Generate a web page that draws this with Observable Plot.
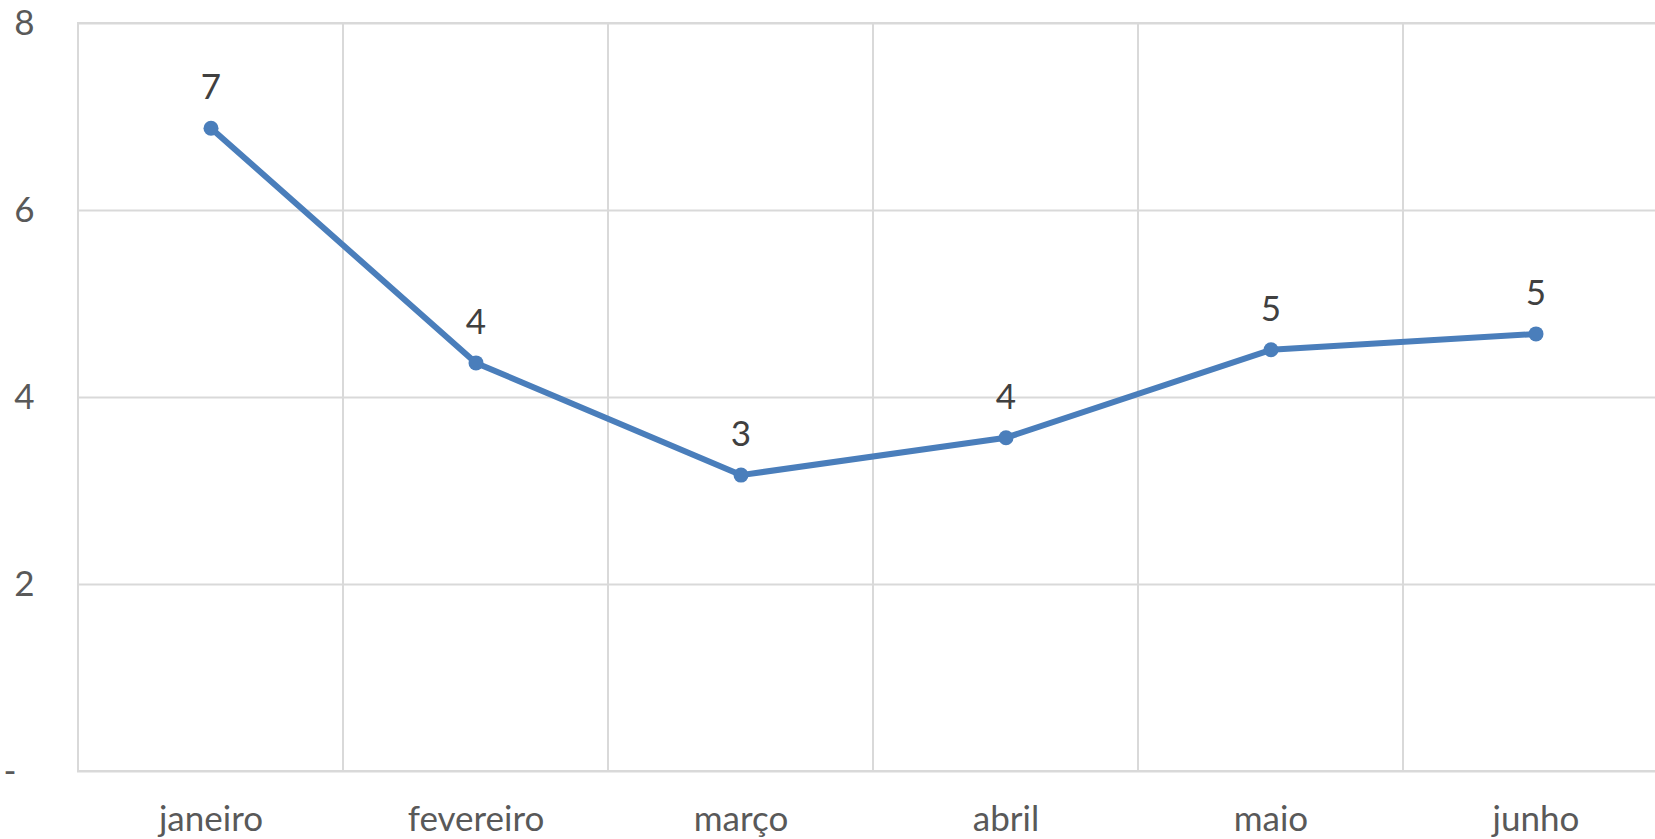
<!DOCTYPE html>
<html>
<head>
<meta charset="utf-8">
<script src="https://cdn.jsdelivr.net/npm/d3@7"></script>
<script src="https://cdn.jsdelivr.net/npm/@observablehq/plot@0.6"></script>
<style>
  html, body { margin: 0; padding: 0; background: #ffffff; overflow: hidden; }
</style>
</head>
<body>
<div id="chart"></div>
<script>
const months = ["janeiro", "fevereiro", "março", "abril", "maio", "junho"];
const values = [6.88, 4.37, 3.17, 3.57, 4.51, 4.68];
const yTicks = [2, 4, 6, 8];
const yZeroTick = [0];

const data = months.map((m, i) => ({month: m, value: values[i]}));

const gridColor = "#d9d9d9";
const lineColor = "#4a7ebb";
const fs = 35;

const chart = Plot.plot({
  width: 1655,
  height: 839,
  marginLeft: 77,
  marginTop: 23,
  marginBottom: 68,
  marginRight: 0,
  style: {fontFamily: "Lato", fontSize: fs + "px", background: "#ffffff", overflow: "hidden"},
  x: {domain: months, padding: 0, range: [77, 1669], label: null},
  y: {domain: [0, 8], label: null},
  marks: [
    Plot.gridY(yZeroTick.concat(yTicks), {stroke: gridColor, strokeOpacity: 1, strokeWidth: 2}),
    Plot.barY(months, {x: d => d, y1: 0, y2: 8, fill: "none", stroke: gridColor, strokeWidth: 2, inset: 0}),
    Plot.line(data, {x: "month", y: "value", stroke: lineColor, strokeWidth: 6}),
    Plot.dot(data, {x: "month", y: "value", r: 7.5, fill: lineColor, stroke: "none"}),
    Plot.text(data, {x: "month", y: "value", text: d => String(Math.round(d.value)), dy: -40, fill: "#404040", fontSize: fs}),
    Plot.axisY(yTicks, {tickSize: 0, tickPadding: 43, tickFormat: d => String(d), fill: "#595959", fontSize: fs, label: null}),
    Plot.axisY(yZeroTick, {tickSize: 0, tickPadding: 61, tickFormat: () => "-", fill: "#595959", fontSize: fs, label: null}),
    Plot.axisX({tickSize: 0, tickPadding: 35, fill: "#595959", fontSize: fs, label: null})
  ]
});

document.getElementById("chart").appendChild(chart);
</script>
</body>
</html>
